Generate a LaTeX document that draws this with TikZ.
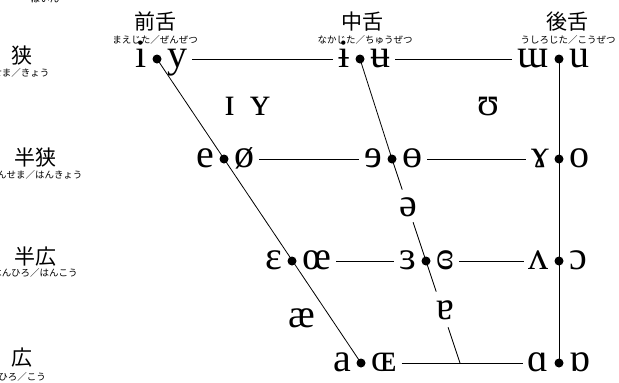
\documentclass[tikz,border=0pt]{standalone}
\usepackage{fontspec}
\setmainfont{Liberation Serif}
\newfontfamily\jp{Noto Sans CJK JP}
\usetikzlibrary{calc}
\begin{document}
\begin{tikzpicture}[x=1pt,y=-1pt,
  ipa/.style={font=\fontsize{40}{42}\selectfont, inner sep=0pt},
  L/.style={ipa, anchor=base east, xshift=-10pt, yshift=-8pt},
  R/.style={ipa, anchor=base west, xshift=10pt, yshift=-8pt},
  hd/.style={font=\jp\fontsize{21}{24}\selectfont, inner sep=0pt},
  furi/.style={font=\jp\fontsize{9.5}{10}\selectfont, inner sep=0pt},
  ln/.style={line width=0.8pt},
  hl/.style={ln, shorten <=5pt, shorten >=5pt}]
\useasboundingbox (0,0) rectangle (619,383);
% vowel points
\coordinate (f1) at (157,59);
\coordinate (f2) at (224,159);
\coordinate (f3) at (292,261);
\coordinate (f4) at (361,363);
\coordinate (c1) at (360,59);
\coordinate (c2) at (392,159);
\coordinate (c3) at (426,261);
\coordinate (cb) at (460,363);
\coordinate (b1) at (559,59);
\coordinate (b2) at (559,159);
\coordinate (b3) at (559,261);
\coordinate (b4) at (559,363);
\path (c2) -- (c3) coordinate[pos=0.30] (s1) coordinate[pos=0.62] (s2);
\path (c3) -- (cb) coordinate[pos=0.30] (s3) coordinate[pos=0.65] (s4);
% headers
\node[hd] (hf) at (155,22) {前舌};
\node[furi] (hff) at (155,40) {まえじた／ぜんぜつ};
\node[hd] (hc) at (362,22) {中舌};
\node[furi] (hcf) at (365,40) {なかじた／ちゅうぜつ};
\node[hd] (hb) at (567,22) {後舌};
\node[furi] (hbf) at (568,40) {うしろじた／こうぜつ};
\node[furi] (boin) at (45,-1) {ぼいん};
% row labels
\node[hd] (r1) at (22,56) {狭};
\node[furi] (r1f) at (21,73) {せま／きょう};
\node[hd] (r2) at (35,158) {半狭};
\node[furi] (r2f) at (35,175) {はんせま／はんきょう};
\node[hd] (r3) at (35,257) {半広};
\node[furi] (r3f) at (35,273) {はんひろ／はんこう};
\node[hd] (r4) at (22,358) {広};
\node[furi] (r4f) at (22,377) {ひろ／こう};
% glyphs
\node[L] (gi) at (f1) {i};      \node[R] (gy) at (f1) {y};
\node[L] (gib) at (c1) {ɨ};     \node[R] (gub) at (c1) {ʉ};
\node[L] (gmu) at (b1) {ɯ};     \node[R] (gu) at (b1) {u};
\node[L] (ge) at (f2) {e};      \node[R] (goe) at (f2) {ø};
\node[L] (grev) at (c2) {ɘ};    \node[R] (gbar) at (c2) {ɵ};
\node[L] (gram) at (b2) {ɤ};    \node[R] (go) at (b2) {o};
\node[L] (geps) at (f3) {ɛ};    \node[R] (goel) at (f3) {œ};
\node[L] (grep) at (c3) {ɜ};    \node[R] (gcre) at (c3) {ɞ};
\node[L] (gwv) at (b3) {ʌ};     \node[R] (goo) at (b3) {ɔ};
\node[L] (ga) at (f4) {a};      \node[R] (goec) at (f4) {ɶ};
\node[L] (gaa) at (b4) {ɑ};     \node[R] (gta) at (b4) {ɒ};
\node[ipa, anchor=base] (gsi) at (230,115) {ɪ};
\node[ipa, anchor=base] (gsy) at (260,115) {ʏ};
\node[ipa, anchor=base] (gup) at (488,115) {ʊ};
\node[ipa, anchor=base] (gschwa) at (408,216) {ə};
\node[ipa, anchor=base] (gae) at (302,327) {æ};
\node[ipa, anchor=base] (gtur) at (445,319) {ɐ};
% lines
\draw[ln] (f1) -- (f4);
\draw[ln] (b1) -- (b4);
\draw[ln] (c1) -- (c2) -- (s1);
\draw[ln] (s2) -- (c3) -- (s3);
\draw[ln] (s4) -- (cb);
\draw[hl] (gy.east |- f1) -- (gib.west |- c1);
\draw[hl] (gub.east |- c1) -- (gmu.west |- b1);
\draw[hl] (goe.east |- f2) -- (grev.west |- c2);
\draw[hl] (gbar.east |- c2) -- (gram.west |- b2);
\draw[hl] (goel.east |- f3) -- (grep.west |- c3);
\draw[hl] (gcre.east |- c3) -- (gwv.west |- b3);
\draw[hl] (goec.east |- f4) -- (gaa.west |- b4);
% dots
\foreach \p in {f1,f2,f3,f4,c1,c2,c3,b1,b2,b3,b4}
  \fill (\p) circle (4.5pt);
\end{tikzpicture}
\end{document}
